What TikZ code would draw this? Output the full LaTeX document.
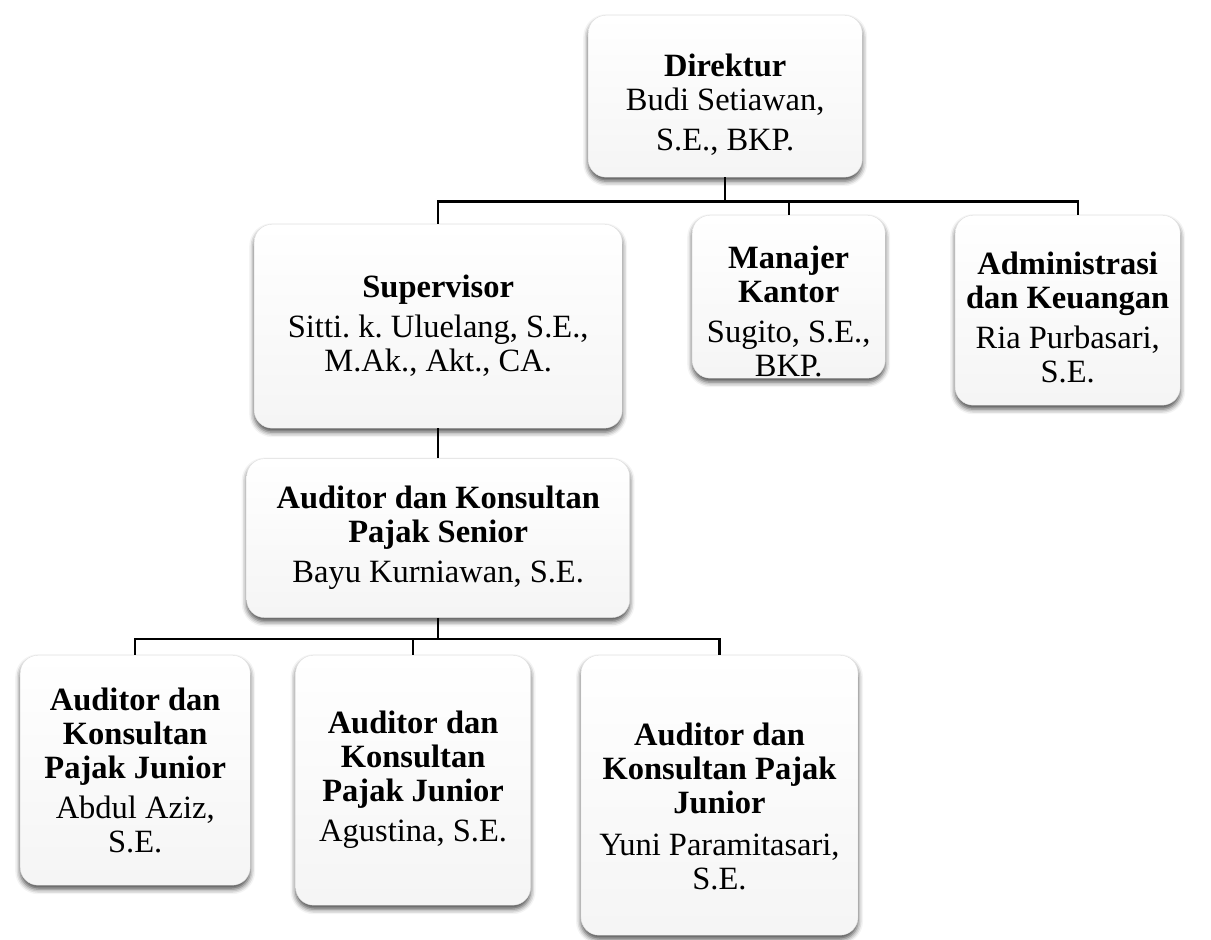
\documentclass[tikz,border=0pt]{standalone}
\usepackage{fontspec}
\setmainfont{Liberation Serif}
\usetikzlibrary{positioning, shadows.blur}

\newcommand{\toppad}[1]{\rule{0pt}{#1}}
\frenchspacing

\begin{document}
\begin{tikzpicture}[
  x=1pt, y=-1pt,
  box/.style={draw=gray!25, rectangle, rounded corners=18pt, anchor=north west,
    align=center, inner sep=0pt, top color=white, bottom color=gray!8,
    blur shadow={shadow xshift=0pt, shadow yshift=-4pt, shadow blur radius=5pt, shadow opacity=70},
    font=\fontsize{32.5}{34}\selectfont},
  link/.style={line width=2.4pt}
]
\useasboundingbox (0,0) rectangle (1211,940);

\node[box, minimum width=274pt, minimum height=162pt] (dir) at (588,15)
  {\toppad{40pt}\textbf{Direktur}\\ Budi Setiawan,\\[6pt] S.E., BKP.};
\node[box, minimum width=368pt, minimum height=204pt] (sup) at (254,224)
  {\textbf{Supervisor}\\[6pt] Sitti. k. Uluelang, S.E.,\\ M.Ak., Akt., CA.};
\node[box, minimum width=193pt, minimum height=163pt] (man) at (692,215)
  {\toppad{53pt}\textbf{Manajer}\\ \textbf{Kantor}\\[6pt] Sugito, S.E.,\\ BKP.};
\node[box, minimum width=225pt, minimum height=190pt] (adm) at (955,215)
  {\toppad{37pt}\textbf{Administrasi}\\ \textbf{dan Keuangan}\\[6pt] Ria Purbasari,\\ S.E.};
\node[box, minimum width=383pt, minimum height=159pt, below=30pt of sup] (sen)
  {\textbf{Auditor dan Konsultan}\\ \textbf{Pajak Senior}\\[6pt] Bayu Kurniawan, S.E.};

\node[box, minimum width=230pt, minimum height=230pt] (jun1) at (20,655)
  {\textbf{Auditor dan}\\ \textbf{Konsultan}\\ \textbf{Pajak Junior}\\[6pt] Abdul Aziz,\\ S.E.};
\node[box, minimum width=235pt, minimum height=250pt, right=45pt of jun1.north east, anchor=north west] (jun2)
  {\textbf{Auditor dan}\\ \textbf{Konsultan}\\ \textbf{Pajak Junior}\\[6pt] Agustina, S.E.};
\node[box, minimum width=277pt, minimum height=280pt, right=50pt of jun2.north east, anchor=north west] (jun3)
  {\toppad{46pt}\textbf{Auditor dan}\\ \textbf{Konsultan Pajak}\\ \textbf{Junior}\\[8pt] Yuni Paramitasari,\\ S.E.};

% garis struktur
\draw[link] (dir.south) -- ++(0,24) coordinate (topbus) -| (sup.north);
\draw[link] (topbus) -| (man.north);
\draw[link] (topbus) -| ([xshift=10pt]adm.north);
\draw[link] (sup.south) -- (sen.north);
\draw[link] (sen.south) -- ++(0,21) coordinate (lowbus) -| (jun1.north);
\draw[link] (lowbus) -| (jun2.north);
\draw[link] (lowbus) -| (jun3.north);
\end{tikzpicture}
\end{document}
